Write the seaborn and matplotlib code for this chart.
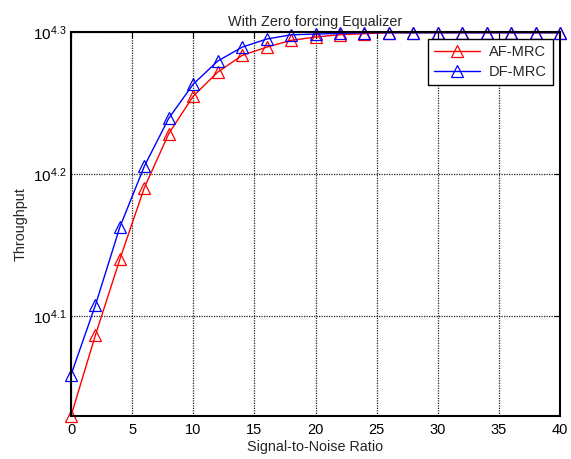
import numpy as np
import pandas as pd
import matplotlib
matplotlib.use("Agg")
import matplotlib.pyplot as plt
import seaborn as sns
from matplotlib.ticker import FixedLocator, FixedFormatter, NullLocator

snr = [0, 2, 4, 6, 8, 10, 12, 14, 16, 18, 20, 22, 24, 26, 28, 30, 32, 34, 36, 38, 40]
af_mrc = [10705, 12208, 13804, 15502, 16923, 17982, 18695, 19210, 19468, 19684, 19789,
          19867, 19899, 19930, 19930, 19930, 19930, 19930, 19930, 19930, 19930]
df_mrc = [11443, 12816, 14545, 16051, 17350, 18336, 19034, 19468, 19725, 19862, 19885,
          19908, 19930, 19930, 19930, 19930, 19930, 19930, 19930, 19930, 19930]
series_names = ["AF-MRC", "DF-MRC"]
ytick_vals = [10**4.1, 10**4.2, 10**4.3]
ytick_labels = ["$10^{4.1}$", "$10^{4.2}$", "$10^{4.3}$"]
xticks = [0, 5, 10, 15, 20, 25, 30, 35, 40]

sns.set_style("white")
plt.rcParams["font.family"] = ["Liberation Sans", "DejaVu Sans"]
plt.rcParams["mathtext.default"] = "regular"

data = pd.DataFrame({
    "SNR": snr * 2,
    "Throughput": af_mrc + df_mrc,
    "Scheme": [series_names[0]] * len(snr) + [series_names[1]] * len(snr),
})

fig = plt.figure(figsize=(5.71, 4.59), dpi=100)
ax = fig.add_axes([71/571, 1 - 416/459, (560-71)/571, (416-32)/459])

colors = {"AF-MRC": "#ff0000", "DF-MRC": "#0000ff"}
for name in series_names:
    sub = data[data["Scheme"] == name]
    sns.lineplot(data=sub, x="SNR", y="Throughput", ax=ax, color=colors[name],
                 marker="^", markersize=8.5, markerfacecolor="none",
                 markeredgecolor=colors[name], markeredgewidth=0.9,
                 linewidth=1.0, label=name)
for ln in ax.lines:
    ln.set_clip_on(False)

ax.set_yscale("log")
ax.set_xlim(0, 40)
ax.set_ylim(af_mrc[0], 10**4.3)
ax.yaxis.set_major_locator(FixedLocator(ytick_vals))
ax.yaxis.set_major_formatter(FixedFormatter(ytick_labels))
ax.yaxis.set_minor_locator(NullLocator())
ax.set_xticks(xticks)
ax.set_xticklabels([str(t) for t in xticks])

ax.grid(True, which="major", color="#222222", linestyle=(0, (1, 1)), linewidth=0.9)
for sp in ax.spines.values():
    sp.set_visible(True)
    sp.set_color("black")
    sp.set_linewidth(1.5)
ax.tick_params(axis="both", which="both", direction="in", length=4, width=0.8,
               top=True, right=True, labelsize=10.5, colors="black", pad=5)
ax.tick_params(axis="y", labelsize=11, pad=3)

ax.set_xlabel("Signal-to-Noise Ratio", fontsize=10.4, labelpad=2)
ax.set_ylabel("Throughput", fontsize=10.4, labelpad=4)
ax.set_title("With Zero forcing Equalizer", fontsize=10.4, pad=4)

leg = ax.legend(loc="upper right", fontsize=10.5, frameon=True, fancybox=False,
                edgecolor="black", borderaxespad=0.5, handlelength=3.2,
                labelspacing=0.4, borderpad=0.4, handletextpad=0.6)
leg.get_frame().set_linewidth(1.0)
leg.get_frame().set_alpha(1)

fig.savefig("out.png", dpi=100)
